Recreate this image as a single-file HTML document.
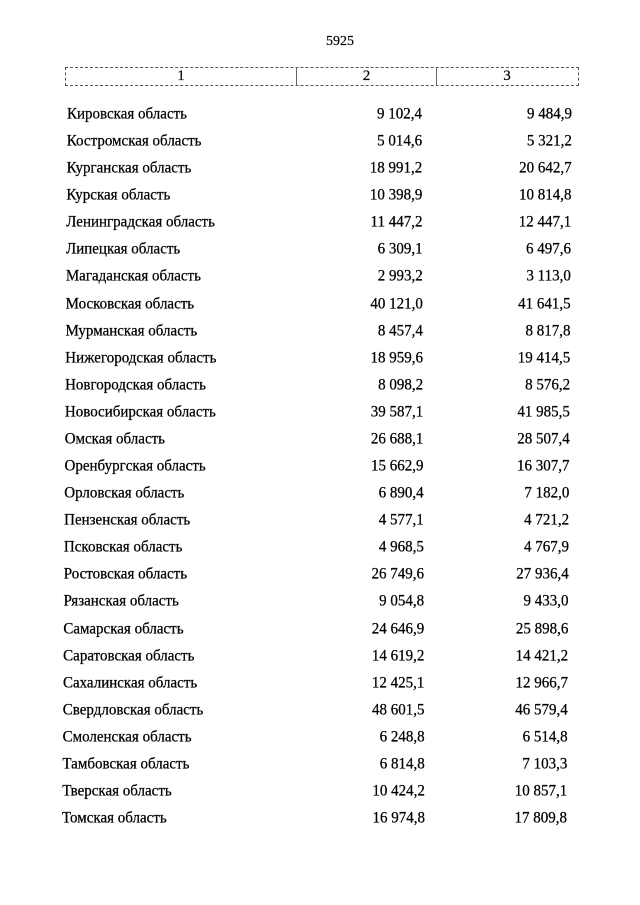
<!DOCTYPE html>
<html>
<head>
<meta charset="utf-8">
<style>
html,body{margin:0;padding:0;background:#fff;}
body{width:640px;height:905px;position:relative;overflow:hidden;font-family:"Liberation Serif","Noto Serif CJK SC",serif;color:#000;}
.pg{position:absolute;left:240px;width:200px;top:33px;text-align:center;font-size:14px;line-height:18px;-webkit-text-stroke:0.2px #000;}
.box{position:absolute;left:65px;top:67px;width:512px;height:17px;border:1px dashed #555;}
.div1{position:absolute;left:296px;top:67px;height:19px;border-left:1px solid #666;}
.div2{position:absolute;left:436px;top:67px;height:19px;border-left:1px solid #666;}
.h{position:absolute;top:67px;font-size:15px;line-height:18px;text-align:center;-webkit-text-stroke:0.2px #000;}
.r{position:absolute;font-size:15px;line-height:18px;white-space:nowrap;top:calc(105px + 27.08px * var(--i));transform:scaleY(1.08);-webkit-text-stroke:0.25px #000;}
.n{left:calc(67px - 0.192px * var(--i));}
.a{right:calc(218px - 0.115px * var(--i));}
.b{right:calc(68px + 0.192px * var(--i));}
</style>
</head>
<body>
<div class="pg">5925</div>
<div class="box"></div>
<div class="div1"></div>
<div class="div2"></div>
<div class="h" style="left:66px;width:230px;">1</div>
<div class="h" style="left:297px;width:139px;">2</div>
<div class="h" style="left:437px;width:140px;">3</div>

<div class="r n" style="--i:0">Кировская область</div><div class="r a" style="--i:0">9 102,4</div><div class="r b" style="--i:0">9 484,9</div>
<div class="r n" style="--i:1">Костромская область</div><div class="r a" style="--i:1">5 014,6</div><div class="r b" style="--i:1">5 321,2</div>
<div class="r n" style="--i:2">Курганская область</div><div class="r a" style="--i:2">18 991,2</div><div class="r b" style="--i:2">20 642,7</div>
<div class="r n" style="--i:3">Курская область</div><div class="r a" style="--i:3">10 398,9</div><div class="r b" style="--i:3">10 814,8</div>
<div class="r n" style="--i:4">Ленинградская область</div><div class="r a" style="--i:4">11 447,2</div><div class="r b" style="--i:4">12 447,1</div>
<div class="r n" style="--i:5">Липецкая область</div><div class="r a" style="--i:5">6 309,1</div><div class="r b" style="--i:5">6 497,6</div>
<div class="r n" style="--i:6">Магаданская область</div><div class="r a" style="--i:6">2 993,2</div><div class="r b" style="--i:6">3 113,0</div>
<div class="r n" style="--i:7">Московская область</div><div class="r a" style="--i:7">40 121,0</div><div class="r b" style="--i:7">41 641,5</div>
<div class="r n" style="--i:8">Мурманская область</div><div class="r a" style="--i:8">8 457,4</div><div class="r b" style="--i:8">8 817,8</div>
<div class="r n" style="--i:9">Нижегородская область</div><div class="r a" style="--i:9">18 959,6</div><div class="r b" style="--i:9">19 414,5</div>
<div class="r n" style="--i:10">Новгородская область</div><div class="r a" style="--i:10">8 098,2</div><div class="r b" style="--i:10">8 576,2</div>
<div class="r n" style="--i:11">Новосибирская область</div><div class="r a" style="--i:11">39 587,1</div><div class="r b" style="--i:11">41 985,5</div>
<div class="r n" style="--i:12">Омская область</div><div class="r a" style="--i:12">26 688,1</div><div class="r b" style="--i:12">28 507,4</div>
<div class="r n" style="--i:13">Оренбургская область</div><div class="r a" style="--i:13">15 662,9</div><div class="r b" style="--i:13">16 307,7</div>
<div class="r n" style="--i:14">Орловская область</div><div class="r a" style="--i:14">6 890,4</div><div class="r b" style="--i:14">7 182,0</div>
<div class="r n" style="--i:15">Пензенская область</div><div class="r a" style="--i:15">4 577,1</div><div class="r b" style="--i:15">4 721,2</div>
<div class="r n" style="--i:16">Псковская область</div><div class="r a" style="--i:16">4 968,5</div><div class="r b" style="--i:16">4 767,9</div>
<div class="r n" style="--i:17">Ростовская область</div><div class="r a" style="--i:17">26 749,6</div><div class="r b" style="--i:17">27 936,4</div>
<div class="r n" style="--i:18">Рязанская область</div><div class="r a" style="--i:18">9 054,8</div><div class="r b" style="--i:18">9 433,0</div>
<div class="r n" style="--i:19">Самарская область</div><div class="r a" style="--i:19">24 646,9</div><div class="r b" style="--i:19">25 898,6</div>
<div class="r n" style="--i:20">Саратовская область</div><div class="r a" style="--i:20">14 619,2</div><div class="r b" style="--i:20">14 421,2</div>
<div class="r n" style="--i:21">Сахалинская область</div><div class="r a" style="--i:21">12 425,1</div><div class="r b" style="--i:21">12 966,7</div>
<div class="r n" style="--i:22">Свердловская область</div><div class="r a" style="--i:22">48 601,5</div><div class="r b" style="--i:22">46 579,4</div>
<div class="r n" style="--i:23">Смоленская область</div><div class="r a" style="--i:23">6 248,8</div><div class="r b" style="--i:23">6 514,8</div>
<div class="r n" style="--i:24">Тамбовская область</div><div class="r a" style="--i:24">6 814,8</div><div class="r b" style="--i:24">7 103,3</div>
<div class="r n" style="--i:25">Тверская область</div><div class="r a" style="--i:25">10 424,2</div><div class="r b" style="--i:25">10 857,1</div>
<div class="r n" style="--i:26">Томская область</div><div class="r a" style="--i:26">16 974,8</div><div class="r b" style="--i:26">17 809,8</div>
</body>
</html>
